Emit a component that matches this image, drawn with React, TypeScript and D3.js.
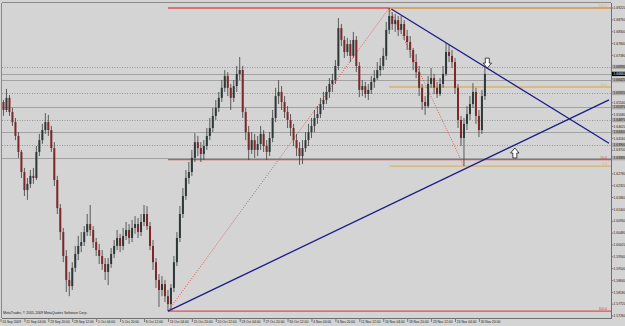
import React from "react";
import * as d3 from "d3";

const W = 625;
const H = 326;

const timeLabels = [
  "16 Sep 2009", "21 Sep 04:00", "23 Sep 20:00", "28 Sep 12:00", "1 Oct 04:00",
  "5 Oct 20:00", "8 Oct 12:00", "13 Oct 04:00", "15 Oct 20:00", "20 Oct 12:00",
  "23 Oct 04:00", "27 Oct 20:00", "30 Oct 12:00", "4 Nov 04:00", "6 Nov 20:00",
  "11 Nov 12:00", "16 Nov 04:00", "18 Nov 20:00", "23 Nov 12:00", "26 Nov 04:00",
  "30 Nov 20:00",
];

const priceTicks = [
  1.5680, 1.5726, 1.5772, 1.5818, 1.5864, 1.5910, 1.5956, 1.6002, 1.6048, 1.6094,
  1.6140, 1.6186, 1.6232, 1.6278, 1.6324, 1.6370, 1.6416, 1.6462, 1.6508, 1.6554,
  1.6600, 1.6646, 1.6692, 1.6738, 1.6784, 1.6830, 1.6876, 1.6922,
];

// [open, high, low, close]
const candles: [number, number, number, number][] = [
  [1.6541, 1.6584, 1.6518, 1.6557], [1.6557, 1.6565, 1.6503, 1.6526], [1.6526, 1.6608, 1.6518, 1.6573],
  [1.6573, 1.6584, 1.6503, 1.6518], [1.6518, 1.6534, 1.6464, 1.6479], [1.6479, 1.6495, 1.6409, 1.6425],
  [1.6425, 1.6440, 1.6340, 1.6363], [1.6363, 1.6371, 1.6262, 1.6285], [1.6285, 1.6301, 1.6192, 1.6215],
  [1.6215, 1.6262, 1.6177, 1.6239], [1.6239, 1.6293, 1.6223, 1.6270], [1.6270, 1.6301, 1.6239, 1.6262],
  [1.6262, 1.6386, 1.6254, 1.6363], [1.6363, 1.6433, 1.6347, 1.6409], [1.6409, 1.6472, 1.6394, 1.6448],
  [1.6448, 1.6514, 1.6433, 1.6479], [1.6479, 1.6507, 1.6425, 1.6448], [1.6448, 1.6464, 1.6363, 1.6378],
  [1.6378, 1.6401, 1.6231, 1.6254], [1.6254, 1.6270, 1.6122, 1.6145], [1.6145, 1.6161, 1.6021, 1.6052],
  [1.6052, 1.6068, 1.5935, 1.5959], [1.5959, 1.5982, 1.5819, 1.5866], [1.5866, 1.5897, 1.5803, 1.5842],
  [1.5842, 1.5935, 1.5827, 1.5913], [1.5913, 1.5998, 1.5897, 1.5967], [1.5967, 1.6037, 1.5943, 1.5998],
  [1.5998, 1.6052, 1.5974, 1.6013], [1.6013, 1.6075, 1.5998, 1.6052], [1.6052, 1.6122, 1.6037, 1.6083],
  [1.6083, 1.6157, 1.6037, 1.6060], [1.6060, 1.6075, 1.5990, 1.6013], [1.6013, 1.6029, 1.5959, 1.5982],
  [1.5982, 1.6006, 1.5928, 1.5959], [1.5959, 1.5982, 1.5905, 1.5928], [1.5928, 1.5951, 1.5866, 1.5897],
  [1.5897, 1.5951, 1.5846, 1.5928], [1.5928, 1.5990, 1.5913, 1.5967], [1.5967, 1.6021, 1.5951, 1.5998],
  [1.5998, 1.6060, 1.5982, 1.6029], [1.6029, 1.6045, 1.5974, 1.5998], [1.5998, 1.6068, 1.5982, 1.6037],
  [1.6037, 1.6091, 1.6021, 1.6060], [1.6060, 1.6083, 1.6006, 1.6029], [1.6029, 1.6099, 1.6013, 1.6068],
  [1.6068, 1.6114, 1.6045, 1.6083], [1.6083, 1.6107, 1.6029, 1.6052], [1.6052, 1.6122, 1.6037, 1.6091],
  [1.6091, 1.6157, 1.6075, 1.6122], [1.6122, 1.6153, 1.6060, 1.6075], [1.6075, 1.6091, 1.5982, 1.5998],
  [1.5998, 1.6021, 1.5905, 1.5935], [1.5935, 1.5951, 1.5835, 1.5866], [1.5866, 1.5889, 1.5761, 1.5827],
  [1.5827, 1.5881, 1.5803, 1.5850], [1.5850, 1.5866, 1.5780, 1.5803], [1.5803, 1.5827, 1.5745, 1.5772],
  [1.5772, 1.5850, 1.5749, 1.5835], [1.5835, 1.5959, 1.5819, 1.5935], [1.5935, 1.6052, 1.5920, 1.6029],
  [1.6029, 1.6153, 1.6013, 1.6122], [1.6122, 1.6223, 1.6107, 1.6192], [1.6192, 1.6293, 1.6177, 1.6262],
  [1.6262, 1.6324, 1.6239, 1.6285], [1.6285, 1.6371, 1.6270, 1.6340], [1.6340, 1.6436, 1.6324, 1.6401],
  [1.6401, 1.6425, 1.6347, 1.6378], [1.6378, 1.6401, 1.6324, 1.6355], [1.6355, 1.6409, 1.6332, 1.6386],
  [1.6386, 1.6456, 1.6371, 1.6425], [1.6425, 1.6495, 1.6409, 1.6456], [1.6456, 1.6534, 1.6440, 1.6503],
  [1.6503, 1.6565, 1.6487, 1.6534], [1.6534, 1.6596, 1.6518, 1.6573], [1.6573, 1.6642, 1.6557, 1.6612],
  [1.6612, 1.6681, 1.6596, 1.6658], [1.6658, 1.6673, 1.6580, 1.6612], [1.6612, 1.6627, 1.6526, 1.6573],
  [1.6573, 1.6642, 1.6557, 1.6619], [1.6619, 1.6697, 1.6596, 1.6666], [1.6666, 1.6732, 1.6642, 1.6681],
  [1.6681, 1.6697, 1.6495, 1.6518], [1.6518, 1.6534, 1.6409, 1.6440], [1.6440, 1.6464, 1.6332, 1.6371],
  [1.6371, 1.6440, 1.6355, 1.6409], [1.6409, 1.6433, 1.6340, 1.6371], [1.6371, 1.6425, 1.6347, 1.6394],
  [1.6394, 1.6464, 1.6371, 1.6433], [1.6433, 1.6448, 1.6363, 1.6386], [1.6386, 1.6409, 1.6332, 1.6363],
  [1.6363, 1.6440, 1.6347, 1.6417], [1.6417, 1.6526, 1.6401, 1.6495], [1.6495, 1.6612, 1.6479, 1.6580],
  [1.6580, 1.6642, 1.6549, 1.6596], [1.6596, 1.6619, 1.6526, 1.6557], [1.6557, 1.6580, 1.6495, 1.6518],
  [1.6518, 1.6541, 1.6456, 1.6487], [1.6487, 1.6510, 1.6425, 1.6456], [1.6456, 1.6472, 1.6386, 1.6409],
  [1.6409, 1.6433, 1.6347, 1.6378], [1.6378, 1.6401, 1.6313, 1.6347], [1.6347, 1.6409, 1.6316, 1.6378],
  [1.6378, 1.6440, 1.6363, 1.6409], [1.6409, 1.6472, 1.6386, 1.6440], [1.6440, 1.6495, 1.6417, 1.6464],
  [1.6464, 1.6526, 1.6440, 1.6495], [1.6495, 1.6541, 1.6472, 1.6510], [1.6510, 1.6573, 1.6495, 1.6549],
  [1.6549, 1.6596, 1.6526, 1.6565], [1.6565, 1.6619, 1.6549, 1.6596], [1.6596, 1.6650, 1.6573, 1.6627],
  [1.6627, 1.6666, 1.6596, 1.6642], [1.6642, 1.6720, 1.6627, 1.6697], [1.6697, 1.6883, 1.6681, 1.6844],
  [1.6844, 1.6860, 1.6774, 1.6798], [1.6798, 1.6813, 1.6728, 1.6751], [1.6751, 1.6806, 1.6736, 1.6782],
  [1.6782, 1.6798, 1.6712, 1.6736], [1.6736, 1.6829, 1.6728, 1.6798], [1.6798, 1.6813, 1.6673, 1.6697],
  [1.6697, 1.6712, 1.6576, 1.6604], [1.6604, 1.6642, 1.6580, 1.6619], [1.6619, 1.6635, 1.6573, 1.6588],
  [1.6588, 1.6627, 1.6565, 1.6604], [1.6604, 1.6658, 1.6588, 1.6635], [1.6635, 1.6681, 1.6612, 1.6650],
  [1.6650, 1.6712, 1.6642, 1.6681], [1.6681, 1.6728, 1.6658, 1.6697], [1.6697, 1.6767, 1.6681, 1.6736],
  [1.6736, 1.6868, 1.6720, 1.6837], [1.6837, 1.6922, 1.6821, 1.6891], [1.6891, 1.6906, 1.6837, 1.6860],
  [1.6860, 1.6899, 1.6829, 1.6875], [1.6875, 1.6891, 1.6813, 1.6837], [1.6837, 1.6891, 1.6821, 1.6860],
  [1.6860, 1.6875, 1.6798, 1.6813], [1.6813, 1.6837, 1.6759, 1.6790], [1.6790, 1.6813, 1.6728, 1.6759],
  [1.6759, 1.6767, 1.6681, 1.6712], [1.6712, 1.6743, 1.6650, 1.6673], [1.6673, 1.6697, 1.6580, 1.6612],
  [1.6612, 1.6627, 1.6526, 1.6557], [1.6557, 1.6580, 1.6507, 1.6541], [1.6541, 1.6658, 1.6534, 1.6627],
  [1.6627, 1.6689, 1.6612, 1.6650], [1.6650, 1.6666, 1.6588, 1.6612], [1.6612, 1.6635, 1.6573, 1.6588],
  [1.6588, 1.6650, 1.6580, 1.6627], [1.6627, 1.6697, 1.6612, 1.6666], [1.6666, 1.6786, 1.6658, 1.6751],
  [1.6751, 1.6778, 1.6712, 1.6736], [1.6736, 1.6759, 1.6689, 1.6712], [1.6712, 1.6728, 1.6588, 1.6612],
  [1.6612, 1.6627, 1.6456, 1.6487], [1.6487, 1.6503, 1.6386, 1.6417], [1.6417, 1.6495, 1.6308, 1.6472],
  [1.6472, 1.6541, 1.6448, 1.6510], [1.6510, 1.6580, 1.6487, 1.6549], [1.6549, 1.6631, 1.6534, 1.6596],
  [1.6596, 1.6612, 1.6472, 1.6503], [1.6503, 1.6526, 1.6421, 1.6448], [1.6448, 1.6604, 1.6433, 1.6580],
  [1.6580, 1.6697, 1.6565, 1.6666],
];

const solidLevels = [1.6642, 1.6537, 1.6440, 1.6339];
const dottedLevels = [1.6693, 1.6592, 1.6487, 1.6390];
const bidPrice = 1.6666;

// Fibonacci anchors [barIndex, price]
const redFib: [number, number][] = [[56, 1.5745], [130, 1.6922]];
const redFibLevels = [0, 50, 100];
const orangeFib: [number, number][] = [[130, 1.6922], [155, 1.6308]];
const orangeFibLevels = [0, 50, 100];

// Trendlines [barIndex, price]
const trendUp: [number, number][] = [[56, 1.5745], [203.5, 1.6565]];
const trendDown: [number, number][] = [[130.7, 1.6918], [203.5, 1.6397]];

const downArrow: [number, number] = [162.8, 1.6708];
const upArrow: [number, number] = [172, 1.6359];

export default function App() {
  const x = d3.scaleLinear().domain([0, 204]).range([0.5, 610.5]);
  const y = d3.scaleLinear().domain([1.5726, 1.6922]).range([316, 8]);
  const plotL = 2, plotR = 611, plotT = 3, plotB = 318;
  const font = "'Liberation Sans', Arial, sans-serif";
  const fs = 3.3;
  const bull = "#2d3838";
  const bear = "#7d2727";
  const wick = "#3c3c3c";
  const red = "#e03a3a";
  const orange = "#d9b26a";
  const navy = "#1c1c8a";
  const line = d3.line<[number, number]>().x((d) => x(d[0])).y((d) => y(d[1]));

  const fibLevelPrice = (a: [number, number][], lvl: number) =>
    a[1][1] + (a[0][1] - a[1][1]) * (lvl / 100);

  const arrowPath = (cx: number, cy: number, dir: number) => {
    const pts: [number, number][] = [
      [-2, -5], [2, -5], [2, 0], [4.2, 0], [0, 5], [-4.2, 0], [-2, 0],
    ];
    return "M" + pts.map(([px, py]) => `${cx + px},${cy + py * dir}`).join("L") + "Z";
  };

  const boxLevels = [...solidLevels, ...dottedLevels, bidPrice];
  const visibleTicks = priceTicks.filter(
    (p) => y(p) < H - 2 && boxLevels.every((b) => Math.abs(y(b) - y(p)) > 4.2)
  );

  return (
    <svg
      width={W}
      height={H}
      style={{ position: "fixed", left: 0, top: 0, display: "block" }}
      xmlns="http://www.w3.org/2000/svg"
    >
      <rect x={0} y={0} width={W} height={H} fill="#d4d4d4" />
      <defs>
        <clipPath id="plot">
          <rect x={plotL} y={plotT} width={plotR - plotL} height={plotB - plotT} />
        </clipPath>
      </defs>

      <g clipPath="url(#plot)">
        {solidLevels.map((p, i) => (
          <line key={"s" + i} x1={plotL} x2={plotR} y1={Math.round(y(p)) + 0.5} y2={Math.round(y(p)) + 0.5} stroke="#a2a2a2" strokeWidth={1} />
        ))}
        <line x1={plotL} x2={plotR} y1={Math.round(y(bidPrice)) + 0.5} y2={Math.round(y(bidPrice)) + 0.5} stroke="#a2a2a2" strokeWidth={1} />
        {dottedLevels.map((p, i) => (
          <line key={"d" + i} x1={plotL} x2={plotR} y1={Math.round(y(p)) + 0.5} y2={Math.round(y(p)) + 0.5} stroke="#858585" strokeWidth={0.8} strokeDasharray="1 1.5" />
        ))}

        {redFibLevels.map((lvl) => {
          const yy = y(fibLevelPrice(redFib, lvl));
          return <line key={"rf" + lvl} x1={x(redFib[0][0])} x2={plotR} y1={yy} y2={yy} stroke={red} strokeWidth={1.3} strokeOpacity={0.85} />;
        })}
        <path d={line(redFib) || ""} stroke={red} strokeWidth={0.8} fill="none" strokeDasharray="1 1.5" />

        {orangeFibLevels.map((lvl) => {
          const yy = y(fibLevelPrice(orangeFib, lvl));
          return <line key={"of" + lvl} x1={x(orangeFib[0][0])} x2={plotR} y1={yy} y2={yy} stroke={orange} strokeWidth={1.4} />;
        })}
        <path d={line(orangeFib) || ""} stroke={red} strokeWidth={0.8} fill="none" strokeDasharray="1 1.5" />

        {candles.map((c, i) => {
          const [o, h, l, cl] = c;
          const cx = x(i);
          const up = cl >= o;
          const top = y(Math.max(o, cl));
          const bot = y(Math.min(o, cl));
          return (
            <g key={"c" + i}>
              <line x1={cx} x2={cx} y1={y(h)} y2={y(l)} stroke={wick} strokeWidth={0.8} />
              <rect x={cx - 1} y={top} width={2} height={Math.max(0.8, bot - top)} fill={up ? bull : bear} />
            </g>
          );
        })}

        <path d={line(trendUp) || ""} stroke={navy} strokeWidth={1.3} fill="none" />
        <path d={line(trendDown) || ""} stroke={navy} strokeWidth={1.3} fill="none" />

        <text x={607} y={y(fibLevelPrice(redFib, 50)) - 1} fontSize={fs} fill={red} textAnchor="end" fontFamily={font}>50.0</text>
        <text x={607} y={y(fibLevelPrice(redFib, 100)) - 1} fontSize={fs} fill={red} textAnchor="end" fontFamily={font}>100.0</text>
        <text x={607} y={y(fibLevelPrice(orangeFib, 100)) - 1} fontSize={fs} fill={orange} textAnchor="end" fontFamily={font}>100.0</text>
        <text x={607} y={y(fibLevelPrice(orangeFib, 50)) - 1} fontSize={fs} fill={orange} textAnchor="end" fontFamily={font}>50.0</text>
        <text x={607} y={y(fibLevelPrice(orangeFib, 0)) - 1} fontSize={fs} fill={orange} textAnchor="end" fontFamily={font}>0.0</text>

        <path d={arrowPath(x(downArrow[0]), y(downArrow[1]), 1)} fill="#ffffff" stroke="#000" strokeWidth={0.7} />
        <path d={arrowPath(x(upArrow[0]), y(upArrow[1]), -1)} fill="#ffffff" stroke="#000" strokeWidth={0.7} />

        <text x={3} y={314} fontSize={3.5} fill="#202020" fontFamily={font}>
          MetaTrader, © 2001-2009 MetaQuotes Software Corp.
        </text>
      </g>

      <line x1={plotL - 0.5} x2={plotL - 0.5} y1={plotT} y2={plotB} stroke="#8a8a8a" strokeWidth={1} />
      <line x1={plotL} x2={plotR} y1={plotT - 0.5} y2={plotT - 0.5} stroke="#8a8a8a" strokeWidth={1} />
      <line x1={plotR + 0.5} x2={plotR + 0.5} y1={plotT} y2={plotB + 1} stroke="#707070" strokeWidth={1} />
      <line x1={plotL} x2={plotR + 1} y1={plotB + 0.5} y2={plotB + 0.5} stroke="#707070" strokeWidth={1} />

      {visibleTicks.map((p, i) => {
        const yy = y(p);
        return (
          <g key={"pt" + i}>
            <line x1={plotR + 1} x2={plotR + 2.3} y1={yy} y2={yy} stroke="#404040" strokeWidth={0.6} />
            <text x={plotR + 2.6} y={yy + 1.2} fontSize={fs} fill="#202020" fontFamily={font}>{p.toFixed(5)}</text>
          </g>
        );
      })}
      {[...solidLevels, ...dottedLevels].map((p, i) => {
        const yy = y(p);
        return (
          <g key={"lb" + i}>
            <rect x={plotR + 1} y={yy - 2.2} width={14} height={4.4} fill="#ababab" />
            <text x={plotR + 2.6} y={yy + 1.2} fontSize={fs} fill="#202020" fontFamily={font}>{p.toFixed(5)}</text>
          </g>
        );
      })}
      <rect x={plotR + 1} y={y(bidPrice) - 2.2} width={14} height={4.4} fill="#000" />
      <text x={plotR + 2.6} y={y(bidPrice) + 1.2} fontSize={fs} fill="#fff" fontFamily={font}>{bidPrice.toFixed(5)}</text>

      {timeLabels.map((t, k) => {
        const xx = x(k * 8);
        return (
          <g key={"tl" + k}>
            <line x1={xx + 0.5} x2={xx + 0.5} y1={plotB + 1} y2={plotB + 4} stroke="#404040" strokeWidth={0.6} />
            <text x={xx + 1.8} y={plotB + 5} fontSize={fs} fill="#202020" fontFamily={font}>{t}</text>
          </g>
        );
      })}
    </svg>
  );
}
